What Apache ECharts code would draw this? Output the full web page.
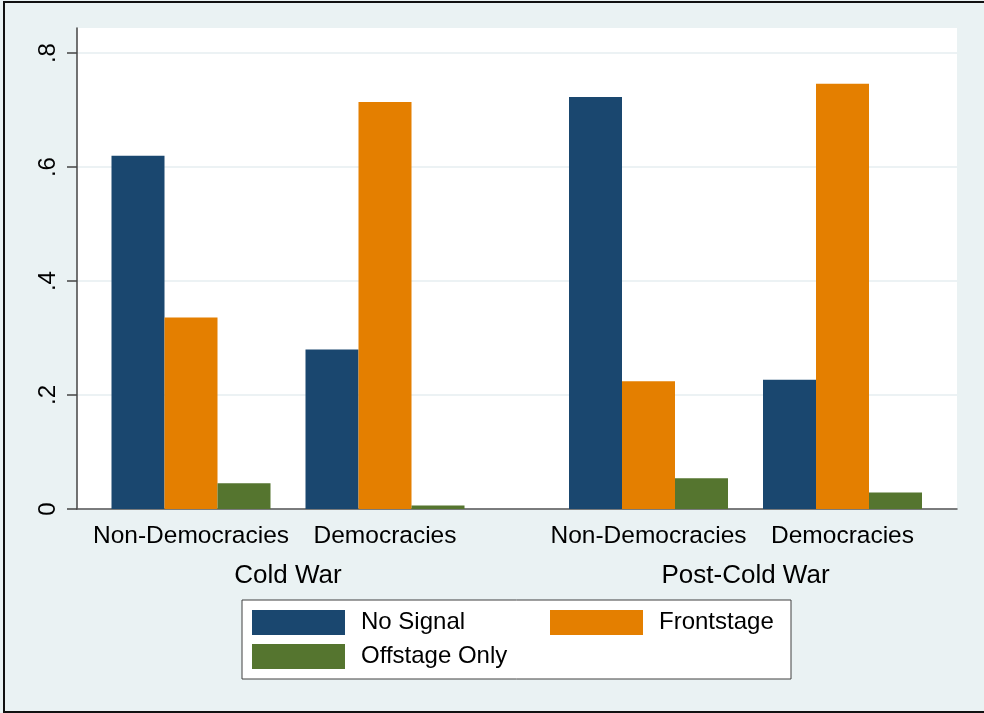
<!DOCTYPE html>
<html>
<head>
<meta charset="utf-8">
<script src="https://cdn.jsdelivr.net/npm/echarts@6/dist/echarts.min.js"></script>
<style>
html,body{margin:0;padding:0;background:#eaf2f3;}
#chart{width:984px;height:713px;}
</style>
</head>
<body>
<div id="chart"></div>
<script>
const categories = ['Non-Democracies', 'Democracies'];
const periods = ['Cold War', 'Post-Cold War'];
const seriesNames = ['No Signal', 'Frontstage', 'Offstage Only'];
const coldWarNoSignal = [0.620, 0.280];
const coldWarFrontstage = [0.336, 0.714];
const coldWarOffstage = [0.045, 0.006];
const postNoSignal = [0.723, 0.227];
const postFrontstage = [0.224, 0.746];
const postOffstage = [0.054, 0.029];
const yTicks = [0, 0.2, 0.4, 0.6, 0.8];
const yTickLabels = ['0', '.2', '.4', '.6', '.8'];

const colors = ['#1a476f', '#e47f00', '#55752f'];
const FONT = '"Liberation Sans", Arial, Helvetica, sans-serif';
const Y_MAX = 0.844;

const chart = echarts.init(document.getElementById('chart'), null, {renderer: 'canvas'});

function barSeries(name, data, xIdx, yIdx, colorIdx) {
  return {
    name: name,
    type: 'bar',
    xAxisIndex: xIdx,
    yAxisIndex: yIdx,
    data: data,
    barWidth: 53,
    barGap: '0%',
    itemStyle: {color: colors[colorIdx]},
    emphasis: {disabled: true},
    animation: false
  };
}

const hiddenY = (idx) => ({
  type: 'value', gridIndex: idx, min: 0, max: Y_MAX, show: false
});

const catAxis = (idx) => ({
  type: 'category', gridIndex: idx, data: categories, position: 'bottom',
  axisLine: {show: false}, axisTick: {show: false},
  axisLabel: {interval: 0, hideOverlap: false, fontSize: 24.5, fontFamily: FONT, color: '#000', margin: 15}
});
const periodAxis = (idx, p) => ({
  type: 'category', gridIndex: idx, data: [p], position: 'bottom',
  axisLine: {show: false}, axisTick: {show: false},
  axisLabel: {interval: 0, fontSize: 26, fontFamily: FONT, color: '#000', margin: 54}
});

const option = {
  backgroundColor: '#eaf2f3',
  animation: false,
  graphic: [{
    type: 'rect', z: 100, silent: true,
    shape: {x: 4, y: 2, width: 1000, height: 710},
    style: {fill: 'none', stroke: '#111', lineWidth: 2}
  }],
  grid: [
    {left: 77, top: 28, width: 880, height: 481, show: true, backgroundColor: '#ffffff', borderWidth: 0},
    {left: 94, top: 28, width: 388, height: 481},
    {left: 551.5, top: 28, width: 388, height: 481}
  ],
  xAxis: [
    {type: 'value', gridIndex: 0, min: 0, max: 1, axisLabel: {show: false}, axisTick: {show: false},
     splitLine: {show: false}, axisLine: {show: true, lineStyle: {color: '#555', width: 1.5}}},
    catAxis(1), periodAxis(1, periods[0]),
    catAxis(2), periodAxis(2, periods[1])
  ],
  yAxis: [
    {type: 'value', gridIndex: 0, min: 0, max: Y_MAX,
     axisLine: {show: true, lineStyle: {color: '#444', width: 1.5}},
     axisTick: {show: true, length: 10, customValues: yTicks, lineStyle: {color: '#444', width: 1.5}},
     axisLabel: {show: true, rotate: 90, fontSize: 24, fontFamily: FONT, color: '#000', margin: 17,
       customValues: yTicks,
       formatter: function (v) {
         const i = yTicks.findIndex(t => Math.abs(t - v) < 1e-6);
         return i >= 0 ? yTickLabels[i] : '';
       }},
     splitLine: {show: true, lineStyle: {color: '#e6eef0', width: 1.5}}
    },
    hiddenY(1), hiddenY(2)
  ],
  legend: {
    orient: 'vertical',
    left: 242, top: 600, height: 60,
    padding: 10,
    itemWidth: 93, itemHeight: 25, itemGap: 9,
    icon: 'rect',
    selectedMode: false,
    backgroundColor: '#ffffff',
    borderColor: '#404040', borderWidth: 1,
    textStyle: {fontSize: 24, fontFamily: FONT, color: '#000', lineHeight: 20, padding: [5, 0, 0, 11]},
    data: [
      {name: seriesNames[0], textStyle: {width: 180}},
      {name: seriesNames[2], textStyle: {width: 180}},
      {name: seriesNames[1], textStyle: {width: 122}}
    ]
  },
  series: [
    barSeries(seriesNames[0], coldWarNoSignal, 1, 1, 0),
    barSeries(seriesNames[1], coldWarFrontstage, 1, 1, 1),
    barSeries(seriesNames[2], coldWarOffstage, 1, 1, 2),
    barSeries(seriesNames[0], postNoSignal, 3, 2, 0),
    barSeries(seriesNames[1], postFrontstage, 3, 2, 1),
    barSeries(seriesNames[2], postOffstage, 3, 2, 2)
  ]
};
chart.setOption(option);
</script>
</body>
</html>
